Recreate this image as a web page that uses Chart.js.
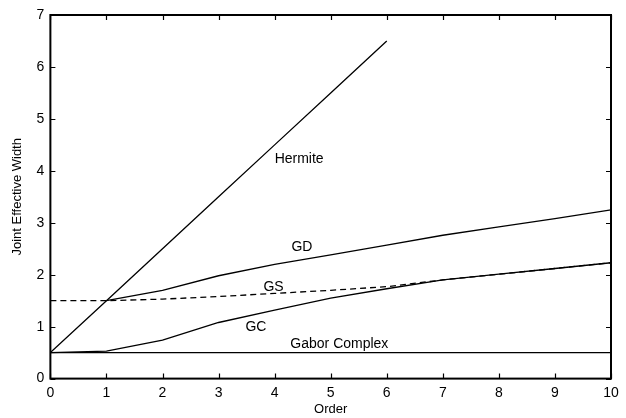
<!DOCTYPE html>
<html lang="en">
<head>
    <meta charset="UTF-8">
    <title>Joint Effective Width</title>
    <script src="https://cdn.jsdelivr.net/npm/chart.js"></script>
    <style>
        body { margin: 0; background: #fff; }
        #wrap { width: 626px; height: 418px; }
    </style>
</head>
<body>
    <div id="wrap"><canvas id="myChart" width="626" height="418"></canvas></div>
    <script>
        // values
        const orders = [0, 1, 2, 3, 4, 5, 6, 7, 8, 9, 10];
        const hermiteOrders = [0, 1, 2, 3, 4, 5, 6];
        const hermite = [0.5, 1.5, 2.5, 3.5, 4.5, 5.5, 6.5];
        const gdOrders = [1, 2, 3, 4, 5, 6, 7, 8, 9, 10];
        const gd = [1.5, 1.7, 1.98, 2.2, 2.38, 2.57, 2.76, 2.92, 3.08, 3.25];
        const gs = [1.5, 1.5, 1.53, 1.58, 1.64, 1.7, 1.77, 1.9, 2.01, 2.12, 2.23];
        const gc = [0.5, 0.53, 0.74, 1.08, 1.32, 1.55, 1.73, 1.9, 2.01, 2.12, 2.23];
        const gabor = [0.5, 0.5, 0.5, 0.5, 0.5, 0.5, 0.5, 0.5, 0.5, 0.5, 0.5];

        const xTicks = [0, 1, 2, 3, 4, 5, 6, 7, 8, 9, 10];
        const yTicks = [0, 1, 2, 3, 4, 5, 6, 7];

        // curve labels, placed in data coordinates
        const labelText = ['Hermite', 'GD', 'GS', 'GC', 'Gabor Complex'];
        const labelX = [4.0, 4.3, 3.8, 3.48, 4.28];
        const labelY = [4.22, 2.54, 1.76, 0.99, 0.66];

        function pts(xs, ys) {
            return xs.map((x, i) => ({ x: x, y: ys[i] }));
        }

        function line(data, dashed) {
            return {
                data: data,
                borderColor: '#000',
                borderWidth: 1.3,
                borderDash: dashed ? [6, 4] : [],
                pointRadius: 0,
                tension: 0,
                fill: false
            };
        }

        const FONT = '"Liberation Sans", Arial, sans-serif';

        // box frame, inward ticks on all sides and the curve labels
        const framePlugin = {
            id: 'frame',
            afterDatasetsDraw(chart) {
                const c = chart.ctx;
                const a = chart.chartArea;
                const xs = chart.scales.x, ys = chart.scales.y;
                c.save();
                c.strokeStyle = '#000';
                c.lineWidth = 2;
                c.strokeRect(a.left, a.top, a.right - a.left, a.bottom - a.top);
                c.lineWidth = 1.2;
                c.beginPath();
                xTicks.forEach(v => {
                    const px = Math.round(xs.getPixelForValue(v)) + 0.5;
                    c.moveTo(px, a.bottom); c.lineTo(px, a.bottom - 5);
                    c.moveTo(px, a.top); c.lineTo(px, a.top + 5);
                });
                yTicks.forEach(v => {
                    const py = Math.round(ys.getPixelForValue(v)) + 0.5;
                    c.moveTo(a.left, py); c.lineTo(a.left + 5, py);
                    c.moveTo(a.right, py); c.lineTo(a.right - 5, py);
                });
                c.stroke();
                c.fillStyle = '#000';
                c.font = '14px ' + FONT;
                c.textAlign = 'left';
                c.textBaseline = 'middle';
                labelText.forEach((t, i) => {
                    c.fillText(t, xs.getPixelForValue(labelX[i]), ys.getPixelForValue(labelY[i]));
                });
                c.restore();
            }
        };

        const ctx = document.getElementById('myChart').getContext('2d');
        const myChart = new Chart(ctx, {
            type: 'scatter',
            data: {
                datasets: [
                    line(pts(hermiteOrders, hermite), false),
                    line(pts(gdOrders, gd), false),
                    line(pts(orders, gs), true),
                    line(pts(orders, gc), false),
                    line(pts(orders, gabor), false)
                ]
            },
            options: {
                responsive: false,
                animation: false,
                devicePixelRatio: 1,
                showLine: true,
                layout: { padding: { left: 10, right: 15, top: 15, bottom: 1 } },
                plugins: {
                    legend: { display: false },
                    tooltip: { enabled: false }
                },
                scales: {
                    x: {
                        type: 'linear',
                        min: 0,
                        max: 10,
                        afterBuildTicks: s => { s.ticks = xTicks.map(v => ({ value: v })); },
                        ticks: { color: '#000', font: { size: 14, family: FONT }, padding: 6, maxRotation: 0 },
                        grid: { display: false, drawTicks: false },
                        border: { display: false },
                        title: { display: true, text: 'Order', color: '#000', font: { size: 13, family: FONT }, padding: { top: -6, bottom: 0 } }
                    },
                    y: {
                        type: 'linear',
                        min: 0,
                        max: 7,
                        afterBuildTicks: s => { s.ticks = yTicks.map(v => ({ value: v })); },
                        ticks: { color: '#000', font: { size: 14, family: FONT }, padding: 6 },
                        grid: { display: false, drawTicks: false },
                        border: { display: false },
                        title: { display: true, text: 'Joint Effective Width', color: '#000', font: { size: 13, family: FONT }, padding: { top: 0, bottom: 5 } }
                    }
                }
            },
            plugins: [framePlugin]
        });
    </script>
</body>
</html>
